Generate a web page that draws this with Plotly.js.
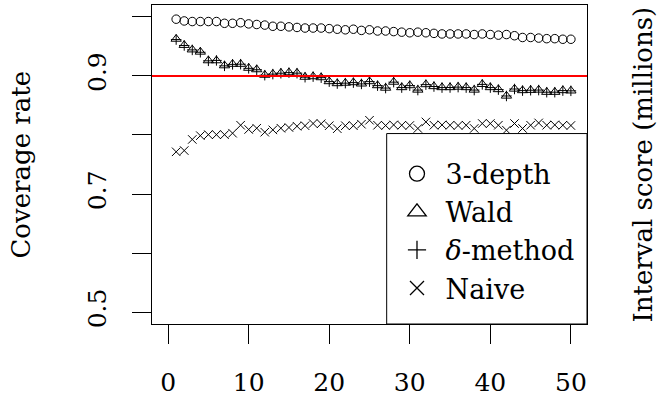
<!DOCTYPE html>
<html>
<head>
<meta charset="utf-8">
<script src="https://cdn.plot.ly/plotly-3.0.1.min.js"></script>
<style>html,body{margin:0;padding:0;background:#fff;}#chart{width:658px;height:404px;}</style>
</head>
<body>
<div id="chart"></div>
<script>
var xs = [1,2,3,4,5,6,7,8,9,10,11,12,13,14,15,16,17,18,19,20,21,22,23,24,25,26,27,28,29,30,31,32,33,34,35,36,37,38,39,40,41,42,43,44,45,46,47,48,49,50];

var depth3 = [0.996,0.993,0.992,0.992,0.992,0.992,0.989,0.989,0.990,0.988,
              0.987,0.986,0.984,0.984,0.983,0.982,0.981,0.981,0.981,0.980,
              0.979,0.978,0.979,0.977,0.978,0.976,0.976,0.975,0.974,0.973,
              0.974,0.973,0.972,0.971,0.971,0.971,0.971,0.970,0.971,0.970,
              0.969,0.970,0.968,0.965,0.965,0.964,0.963,0.963,0.962,0.962];

var wald = [0.9625,0.952,0.9444,0.9406,0.926,0.926,0.9175,0.92,0.92,0.9133,
            0.9108,0.9015,0.9032,0.9049,0.9057,0.9049,0.8981,0.899,0.8973,0.8906,
            0.8872,0.888,0.8889,0.8867,0.8906,0.8838,0.8796,0.8897,0.8805,0.8838,
            0.8763,0.8855,0.8822,0.8805,0.8805,0.8813,0.8805,0.8763,0.8859,0.8805,
            0.8771,0.8662,0.878,0.8754,0.8759,0.8763,0.8726,0.8726,0.8754,0.8749];

var delta = [0.9615,0.9515,0.9440,0.9400,0.9255,0.9262,0.9170,0.9195,0.9198,0.9128,
             0.9104,0.9012,0.9030,0.9045,0.9055,0.9046,0.8978,0.8988,0.8970,0.8903,
             0.8870,0.8877,0.8886,0.8864,0.8903,0.8835,0.8794,0.8894,0.8802,0.8835,
             0.8760,0.8852,0.8820,0.8802,0.8803,0.8810,0.8802,0.8760,0.8856,0.8802,
             0.8768,0.8660,0.8778,0.8751,0.8757,0.8760,0.8724,0.8724,0.8751,0.8747];

var naive = [0.7715,0.7736,0.7924,0.7988,0.8005,0.8005,0.8005,0.803,0.8165,0.8093,
             0.8114,0.8047,0.8086,0.8114,0.8126,0.8148,0.8157,0.8194,0.819,0.8157,
             0.8106,0.8157,0.8157,0.8182,0.8249,0.8165,0.8160,0.8170,0.8165,0.8160,
             0.811,0.8221,0.8165,0.8170,0.8165,0.8160,0.8165,0.811,0.8194,0.8194,
             0.8165,0.8081,0.8194,0.811,0.8165,0.8204,0.8165,0.8170,0.8165,0.8160];

var seriesNames = ['\u00a03-depth', '\u00a0Wald', '\u00a0<i>\u03b4</i>-method', '\u00a0Naive'];
var xTicks = [0,10,20,30,40,50];
var yTicks = [0.5,0.6,0.7,0.8,0.9,1.0];
var yTickText = ['0.5','','0.7','','0.9',''];
var refLine = 0.9;

var F = 'DejaVu Serif';
var blk = '#000000';

function pts(y, sym, size) {
  return {x: xs, y: y, type: 'scatter', mode: 'markers', showlegend: false,
    marker: {symbol: sym, size: size, color: blk, line: {color: blk, width: 1}},
    hoverinfo: 'skip', cliponaxis: false};
}
function leg(name, sym, size) {
  return {x: [null], y: [null], type: 'scatter', mode: 'markers', name: name, showlegend: true,
    marker: {symbol: sym, size: size, color: blk, line: {color: blk, width: 1.3}}};
}

var data = [
  pts(depth3, 'circle-open', 8.5),
  pts(wald, 'triangle-up-open', 9),
  pts(delta, 'cross-thin-open', 7.5),
  pts(naive, 'x-thin-open', 8.5),
  leg(seriesNames[0], 'circle-open', 15),
  leg(seriesNames[1], 'triangle-up-open', 16),
  leg(seriesNames[2], 'cross-thin-open', 13),
  leg(seriesNames[3], 'x-thin-open', 14)
];

var layout = {
  width: 658, height: 404,
  margin: {l: 152, r: 71, t: 5, b: 80, pad: 0},
  paper_bgcolor: '#fff', plot_bgcolor: '#fff',
  font: {family: F, color: blk},
  showlegend: true,
  xaxis: {range: [-2, 52], tickvals: xTicks, ticks: 'outside', ticklen: 19, tickwidth: 1,
    tickcolor: blk, showline: true, mirror: true, linecolor: blk, linewidth: 1,
    showgrid: false, zeroline: false, tickfont: {family: F, size: 25, color: blk},
    ticklabelstandoff: 17},
  yaxis: {range: [0.48, 1.02], tickvals: yTicks, ticktext: yTickText, ticks: 'outside',
    ticklen: 19, tickwidth: 1, tickcolor: blk, showline: true, mirror: true, linecolor: blk,
    linewidth: 1, showgrid: false, zeroline: false, tickangle: -90,
    tickfont: {family: F, size: 25, color: blk}, ticklabelstandoff: 16},
  shapes: [
    {type: 'line', xref: 'paper', x0: 0, x1: 1, yref: 'y', y0: refLine, y1: refLine,
     line: {color: '#ff0000', width: 2}, layer: 'above'},
    {type: 'rect', xref: 'paper', x0: 0.5395, x1: 1, yref: 'paper', y0: 0, y1: 0.597,
     line: {color: blk, width: 1}, fillcolor: '#ffffff', layer: 'above'}
  ],
  legend: {x: 0.5632, xanchor: 'left', y: 0.291, yanchor: 'middle',
    bgcolor: 'rgba(0,0,0,0)', borderwidth: 0, font: {family: F, size: 27, color: blk}},
  annotations: [
    {text: 'Coverage rate', xref: 'paper', yref: 'paper', x: -0.3034, y: 0.5,
     xanchor: 'center', yanchor: 'middle', textangle: -90, showarrow: false,
     font: {family: F, size: 26, color: blk}},
    {text: 'Interval score (millions)', xref: 'paper', yref: 'paper', x: 1.1287, y: 0.5,
     xanchor: 'center', yanchor: 'middle', textangle: -90, showarrow: false,
     font: {family: F, size: 26, color: blk}}
  ]
};

Plotly.newPlot('chart', data, layout, {staticPlot: true, displayModeBar: false});
</script>
</body>
</html>
